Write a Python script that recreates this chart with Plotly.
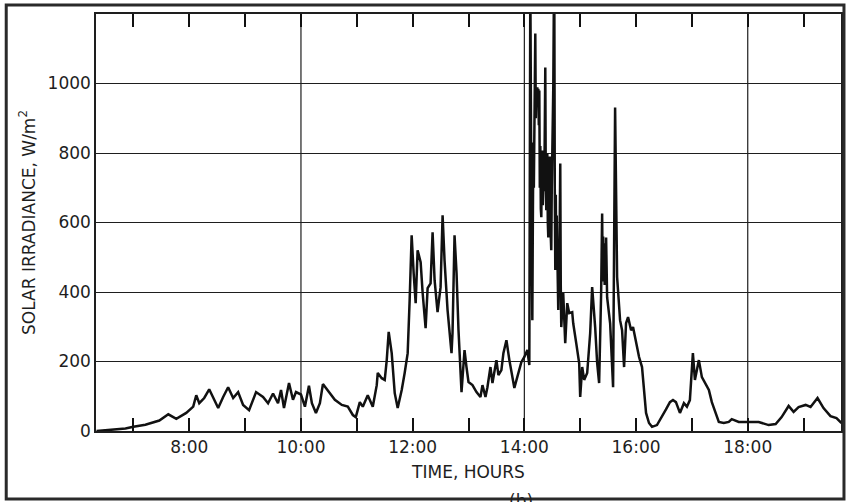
import plotly.graph_objects as go

# Time of day in decimal hours
hours = [
    6.339, 6.589, 6.857, 7.000, 7.214, 7.464, 7.625, 7.768, 7.946, 8.071,
    8.125, 8.179, 8.268, 8.357, 8.446, 8.518, 8.607, 8.696, 8.786, 8.875,
    8.964, 9.071, 9.196, 9.321, 9.411, 9.500, 9.589, 9.643, 9.696, 9.786,
    9.857, 9.911, 10.000, 10.071, 10.143, 10.196, 10.268, 10.339, 10.393, 10.482,
    10.607, 10.732, 10.839, 10.929, 10.982, 11.054, 11.107, 11.196, 11.250, 11.286,
    11.357, 11.375, 11.446, 11.500, 11.536, 11.571, 11.625, 11.679, 11.732, 11.804,
    11.857, 11.911, 11.946, 11.982, 12.018, 12.054, 12.089, 12.143, 12.179, 12.232,
    12.268, 12.321, 12.357, 12.393, 12.446, 12.500, 12.536, 12.571, 12.625, 12.696,
    12.714, 12.750, 12.786, 12.821, 12.875, 12.929, 12.964, 13.000, 13.071, 13.143,
    13.214, 13.250, 13.304, 13.339, 13.393, 13.429, 13.500, 13.536, 13.589, 13.625,
    13.679, 13.732, 13.821, 13.875, 13.946, 14.000, 14.054, 14.089,
    14.107, 14.125, 14.134, 14.143, 14.152, 14.161, 14.170, 14.180, 14.196, 14.205,
    14.214, 14.223, 14.232, 14.241, 14.250, 14.259, 14.268, 14.277, 14.286, 14.295,
    14.304, 14.313, 14.321, 14.330, 14.339, 14.348, 14.357, 14.366, 14.375, 14.384,
    14.393, 14.402, 14.411, 14.420, 14.429, 14.438, 14.446, 14.455, 14.464, 14.473,
    14.482, 14.491, 14.500, 14.509, 14.518, 14.527, 14.536, 14.545, 14.554, 14.563,
    14.571, 14.580, 14.589, 14.598, 14.607, 14.616, 14.625, 14.634, 14.643, 14.652,
    14.661, 14.696, 14.732, 14.768, 14.804, 14.857, 14.875, 14.929, 14.982,
    15.000, 15.036, 15.071, 15.125, 15.179, 15.214, 15.268, 15.304, 15.339, 15.375,
    15.393, 15.402, 15.411, 15.420, 15.429, 15.438, 15.446, 15.455, 15.464, 15.473,
    15.482, 15.536, 15.554, 15.589, 15.625, 15.661, 15.714,
    15.750, 15.786, 15.821, 15.857, 15.911, 15.946, 16.000, 16.054, 16.107, 16.143,
    16.179, 16.232, 16.286, 16.375, 16.464, 16.536, 16.607, 16.661, 16.714, 16.786,
    16.857, 16.911, 16.964, 17.000, 17.018, 17.054, 17.089, 17.125, 17.179, 17.250,
    17.304, 17.357, 17.429, 17.482, 17.571, 17.661, 17.714, 17.839, 18.018, 18.196,
    18.375, 18.500, 18.607, 18.732, 18.821, 18.911, 19.036, 19.125, 19.250, 19.357,
    19.482, 19.589, 19.679,
]

# Solar irradiance in W/m^2 (values above 1200 run off the top of the chart)
irradiance = [
    0, 3, 7, 12, 18, 30, 48, 35, 52, 70,
    103, 80, 95, 120, 90, 66, 98, 126, 95, 112,
    75, 60, 112, 98, 80, 108, 80, 118, 66, 138,
    90, 112, 105, 70, 130, 80, 52, 80, 135, 115,
    90, 75, 70, 46, 40, 83, 70, 103, 80, 70,
    132, 167, 152, 147, 204, 285, 224, 109, 66, 118,
    167, 224, 376, 563, 454, 368, 520, 486, 397, 296,
    411, 425, 572, 434, 342, 414, 621, 491, 348, 224,
    282, 563, 454, 290, 112, 233, 184, 141, 132, 112,
    98, 132, 98, 126, 184, 138, 204, 161, 175, 224,
    261, 204, 124, 160, 198, 213, 233, 190,
    1300, 672, 420, 319, 600, 830, 700, 1000, 1144, 900,
    971, 960, 989, 940, 985, 880, 980, 700, 820, 640,
    615, 780, 807, 650, 713, 800, 690, 900, 1046, 700,
    635, 770, 799, 600, 557, 760, 620, 790, 730, 560,
    520, 700, 800, 760, 989, 1200, 1300, 700, 463, 680,
    500, 620, 549, 450, 348, 480, 400, 600, 770, 420,
    299, 397, 253, 368, 339, 342, 310, 253, 195,
    98, 184, 147, 167, 282, 414, 299, 195, 138, 397,
    626, 450, 560, 430, 500, 420, 540, 430, 557, 400,
    385, 310, 253, 126, 931, 443, 319,
    290, 184, 310, 328, 290, 299, 253, 213, 184, 118,
    52, 23, 12, 17, 40, 62, 83, 89, 83, 52,
    80, 70, 89, 184, 224, 147, 175, 204, 155, 132,
    118, 83, 46, 26, 23, 26, 34, 26, 26, 26,
    17, 20, 40, 72, 55, 69, 75, 69, 95, 66,
    43, 37, 23,
]
assert len(hours) == len(irradiance)

tick_hours = [7, 8, 9, 10, 11, 12, 13, 14, 15, 16, 17, 18, 19]
label_hours = [8, 10, 12, 14, 16, 18]
hour_labels = ["8:00", "10:00", "12:00", "14:00", "16:00", "18:00"]
grid_hours = [10, 14, 18]
y_ticks = [0, 200, 400, 600, 800, 1000]

# hourly ticks: even hours get a clock label, odd hours an empty one
label_map = dict(zip(label_hours, hour_labels))
hour_alias = {str(h): label_map.get(h, " ") for h in tick_hours}

ink = "#1e1e1e"
font = dict(family="DejaVu Sans", size=17, color=ink)

fig = go.Figure()
fig.add_trace(go.Scatter(
    x=hours, y=irradiance, mode="lines",
    line=dict(color="#111111", width=2.5),
    showlegend=False, hoverinfo="x+y",
))

# vertical grid lines only at every fourth hour
grid_shapes = [
    dict(type="line", xref="x", yref="paper", x0=h, x1=h, y0=0, y1=1,
         line=dict(color=ink, width=1.2), layer="below")
    for h in grid_hours
]
frame = dict(
    type="rect", xref="paper", yref="paper",
    x0=-0.1205, x1=1.004, y0=-0.163, y1=1.0216,
    line=dict(color="#2a2a2a", width=3), fillcolor="rgba(0,0,0,0)", layer="above",
)

fig.update_layout(
    width=849, height=502,
    margin=dict(l=96, r=6, t=14, b=71),
    paper_bgcolor="white", plot_bgcolor="white",
    font=font,
    xaxis=dict(
        range=[6.33, 19.67], tickmode="linear", tick0=7, dtick=1,
        labelalias=hour_alias,
        ticks="inside", ticklen=13, tickwidth=2, tickcolor="#111111",
        showline=True, linecolor=ink, linewidth=1.5, mirror="ticks",
        showgrid=False, zeroline=False, tickfont=font,
        title=dict(text="TIME, HOURS", font=font, standoff=10),
    ),
    yaxis=dict(
        range=[0, 1200], tickvals=y_ticks, ticks="",
        showline=True, linecolor=ink, linewidth=1.5, mirror=True,
        showgrid=True, gridcolor=ink, gridwidth=1.2, zeroline=False,
        tickfont=font,
        title=dict(text="SOLAR IRRADIANCE, W/m<sup>2</sup>", font=font, standoff=8),
    ),
    shapes=grid_shapes + [frame],
    annotations=[dict(
        text="(b)", xref="paper", yref="paper", x=0.57, y=-0.168,
        xanchor="center", yanchor="middle", showarrow=False, font=font,
    )],
)

fig.write_html("out.html", config={"displayModeBar": False},
               post_script="document.body.style.margin='0';")
